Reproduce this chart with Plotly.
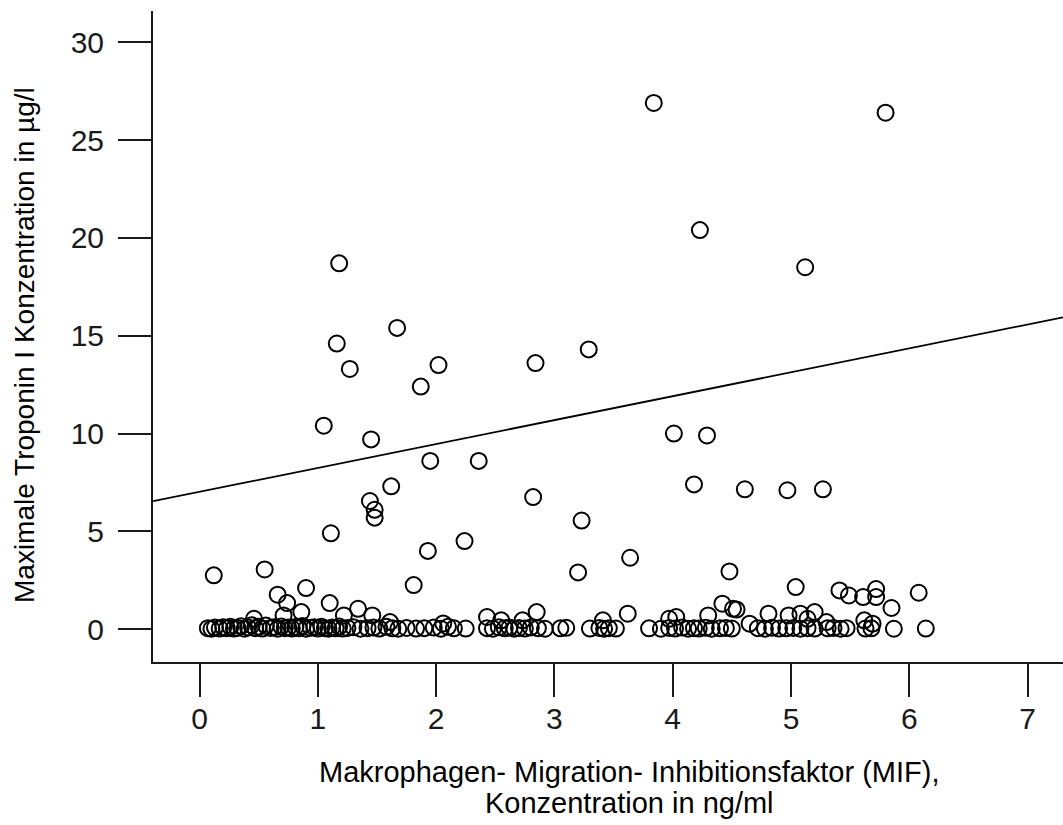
import plotly.graph_objects as go

# Scattered (non-zero) observations: MIF (ng/ml) vs. max Troponin I (µg/l)
mif_high = [3.84, 5.80, 4.23, 1.18, 5.12, 1.67, 1.16, 3.29, 2.84, 2.02, 1.27, 1.87,
            1.05, 4.01, 4.29, 1.45, 1.95, 2.36, 4.18, 1.62, 4.61, 5.27, 4.97, 2.82,
            1.44, 1.48, 1.48, 3.23, 1.11, 2.24, 1.93, 3.64, 0.55, 3.20, 4.48, 0.12,
            1.81, 5.04, 0.90, 5.72, 5.41, 6.08, 0.66, 5.49, 5.61, 5.72, 4.42, 0.74,
            1.10, 5.85, 1.34, 4.51, 4.54, 0.86, 2.85, 4.81, 5.20, 5.08, 3.62, 1.46,
            1.22, 0.71, 4.98, 4.30, 4.03, 2.43, 5.14, 3.97, 0.46, 2.55, 2.73, 3.41,
            5.62, 1.61, 5.30, 2.06, 4.65, 5.69]
tni_high = [26.9, 26.4, 20.4, 18.7, 18.5, 15.4, 14.6, 14.3, 13.6, 13.5, 13.3, 12.4,
            10.4, 10.0, 9.9, 9.7, 8.6, 8.6, 7.4, 7.3, 7.15, 7.15, 7.1, 6.75,
            6.55, 6.1, 5.7, 5.55, 4.9, 4.5, 4.0, 3.65, 3.05, 2.9, 2.95, 2.75,
            2.25, 2.15, 2.1, 2.05, 1.98, 1.86, 1.76, 1.72, 1.64, 1.64, 1.3, 1.33,
            1.33, 1.08, 1.04, 1.04, 1.0, 0.87, 0.87, 0.79, 0.87, 0.79, 0.79, 0.7,
            0.7, 0.7, 0.7, 0.7, 0.62, 0.62, 0.53, 0.53, 0.53, 0.45, 0.45, 0.45,
            0.45, 0.36, 0.36, 0.29, 0.28, 0.28]

# Observations at (almost) zero Troponin I
mif_zero = [0.07, 0.10, 0.13, 0.17, 0.20, 0.23, 0.26, 0.29, 0.32, 0.35, 0.38, 0.41,
            0.44, 0.47, 0.50, 0.53, 0.56, 0.60, 0.63, 0.66, 0.69, 0.72, 0.75, 0.78,
            0.81, 0.84, 0.87, 0.90, 0.94, 0.97, 1.00, 1.03, 1.06, 1.09, 1.12, 1.15,
            1.18, 1.21, 1.25, 1.30, 1.36, 1.42, 1.47, 1.52, 1.58, 1.63, 1.68, 1.75,
            1.83, 1.90, 1.98, 2.04, 2.10, 2.15, 2.25, 2.43, 2.48, 2.53, 2.58, 2.62,
            2.66, 2.70, 2.75, 2.80, 2.86, 2.92, 3.05, 3.10, 3.30, 3.38, 3.42, 3.46,
            3.52, 3.80, 3.90, 3.97, 4.02, 4.08, 4.13, 4.18, 4.22, 4.28, 4.33, 4.40,
            4.45, 4.50, 4.72, 4.78, 4.84, 4.90, 4.96, 5.02, 5.08, 5.14, 5.20, 5.31,
            5.36, 5.42, 5.47, 5.63, 5.68, 5.87, 6.14]
tni_zero = [0.05, 0.02, 0.08, 0.03, 0.10, 0.04, 0.12, 0.03, 0.06, 0.15, 0.02, 0.09,
            0.20, 0.05, 0.12, 0.03, 0.18, 0.06, 0.10, 0.02, 0.14, 0.05, 0.08, 0.03,
            0.11, 0.04, 0.16, 0.02, 0.07, 0.10, 0.03, 0.12, 0.05, 0.02, 0.09, 0.04,
            0.13, 0.03, 0.06, 0.10, 0.02, 0.05, 0.08, 0.03, 0.12, 0.04, 0.02, 0.06,
            0.03, 0.05, 0.08, 0.02, 0.12, 0.04, 0.03, 0.05, 0.02, 0.10, 0.04, 0.08,
            0.02, 0.06, 0.03, 0.09, 0.05, 0.02, 0.04, 0.07, 0.03, 0.06, 0.02, 0.05,
            0.03, 0.04, 0.02, 0.06, 0.03, 0.08, 0.02, 0.05, 0.03, 0.07, 0.02, 0.04,
            0.06, 0.03, 0.05, 0.02, 0.07, 0.03, 0.04, 0.06, 0.02, 0.05, 0.03, 0.04,
            0.06, 0.02, 0.05, 0.03, 0.04, 0.02, 0.03]

# Linear regression line
intercept = 7.02
slope = 1.222

x_range = [-0.394, 7.30]
y_range = [-1.68, 31.6]
x_ticks = [0, 1, 2, 3, 4, 5, 6, 7]
y_ticks = [0, 5, 10, 15, 20, 25, 30]

x_title_1 = "Makrophagen- Migration- Inhibitionsfaktor (MIF),"
x_title_2 = "Konzentration in ng/ml"
y_title = "Maximale Troponin I Konzentration in µg/l"

FONT = "Liberation Sans, Arial, sans-serif"
W, H = 1063, 825
ML, MR, MT = 153, 0, 11
MB = H - 662

fig = go.Figure()

marker = dict(size=16, color="rgba(0,0,0,0)", line=dict(color="black", width=2))

fig.add_trace(go.Scatter(x=mif_zero, y=tni_zero, mode="markers", marker=marker,
                         showlegend=False, cliponaxis=False))
fig.add_trace(go.Scatter(x=mif_high, y=tni_high, mode="markers", marker=marker,
                         showlegend=False, cliponaxis=False))

line_x = x_range
line_y = [intercept + slope * v for v in line_x]
fig.add_trace(go.Scatter(x=line_x, y=line_y, mode="lines",
                         line=dict(color="black", width=1.8), showlegend=False))

axis_common = dict(showline=True, linecolor="#1a1a1a", linewidth=2,
                   ticks="outside", ticklen=33, tickwidth=2, tickcolor="#1a1a1a",
                   showgrid=False, zeroline=False,
                   tickfont=dict(family=FONT, size=30, color="#1a1a1a"))

fig.update_xaxes(range=x_range, tickvals=x_ticks, ticktext=[str(t) for t in x_ticks],
                 ticklabelstandoff=-4, **axis_common)
fig.update_yaxes(range=y_range, tickvals=y_ticks, ticktext=[str(t) for t in y_ticks],
                 ticklabelstandoff=8, **axis_common)

pw = W - ML - MR
ph = H - MT - MB

def px_to_paper_x(px):
    return (px - ML) / pw

def px_to_paper_y(py):
    return (H - MB - py) / ph

fig.add_annotation(text=x_title_1, xref="paper", yref="paper",
                   x=px_to_paper_x(629), y=px_to_paper_y(772),
                   showarrow=False, font=dict(family=FONT, size=29, color="black"),
                   xanchor="center", yanchor="middle")
fig.add_annotation(text=x_title_2, xref="paper", yref="paper",
                   x=px_to_paper_x(629), y=px_to_paper_y(803),
                   showarrow=False, font=dict(family=FONT, size=29, color="black"),
                   xanchor="center", yanchor="middle")
fig.add_annotation(text=y_title, xref="paper", yref="paper",
                   x=px_to_paper_x(25), y=px_to_paper_y(345), textangle=-90,
                   showarrow=False, font=dict(family=FONT, size=28, color="black"),
                   xanchor="center", yanchor="middle")

fig.update_layout(width=W, height=H, margin=dict(l=ML, r=MR, t=MT, b=MB),
                  paper_bgcolor="white", plot_bgcolor="white", hovermode=False)

fig.write_html("out.html", config={"displayModeBar": False},
               post_script="document.body.style.margin='0';"
                           "document.body.style.overflow='hidden';")
